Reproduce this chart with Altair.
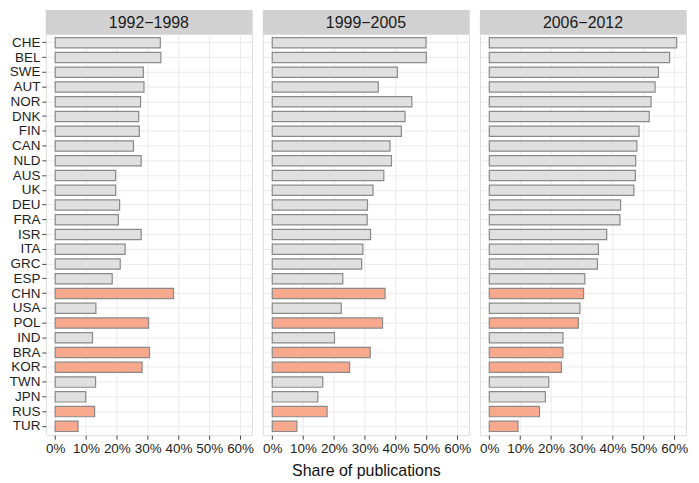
import altair as alt
import pandas as pd

countries = ["CHE", "BEL", "SWE", "AUT", "NOR", "DNK", "FIN", "CAN", "NLD", "AUS",
             "UK", "DEU", "FRA", "ISR", "ITA", "GRC", "ESP", "CHN", "USA", "POL",
             "IND", "BRA", "KOR", "TWN", "JPN", "RUS", "TUR"]
highlighted = ["CHN", "POL", "BRA", "KOR", "RUS", "TUR"]
periods = ["1992\u22121998", "1999\u22122005", "2006\u22122012"]
share_1992_1998 = [34.1, 34.3, 28.6, 28.8, 27.7, 27.1, 27.3, 25.4, 27.9, 19.6,
                   19.6, 20.9, 20.5, 27.9, 22.7, 21.1, 18.5, 38.4, 13.2, 30.3,
                   12.1, 30.6, 28.2, 13.1, 9.9, 12.8, 7.4]
share_1999_2005 = [49.9, 50.0, 40.6, 34.4, 45.3, 43.1, 41.9, 38.2, 38.7, 36.2,
                   32.7, 30.9, 30.8, 31.9, 29.4, 29.0, 22.9, 36.6, 22.4, 35.8,
                   20.2, 31.8, 25.1, 16.4, 14.8, 17.8, 8.0]
share_2006_2012 = [60.8, 58.5, 54.9, 53.8, 52.5, 51.9, 48.6, 47.9, 47.5, 47.4,
                   46.9, 42.6, 42.4, 38.1, 35.4, 35.1, 31.0, 30.6, 29.4, 28.9,
                   23.9, 23.9, 23.4, 19.3, 18.2, 16.3, 9.3]
x_ticks = [0, 10, 20, 30, 40, 50, 60]

series = [share_1992_1998, share_1999_2005, share_2006_2012]

W = 207
H = 403
SH = 24
FONT = "Liberation Sans"

columns = []
for i, (period, vals) in enumerate(zip(periods, series)):
    df = pd.DataFrame({
        "country": countries,
        "share": vals,
        "group": ["highlight" if c in highlighted else "other" for c in countries],
    })
    first = i == 0
    yaxis = alt.Axis(
        title=None, labels=first, ticks=first, domain=False, grid=True,
        gridColor="#ebebeb", gridWidth=1, bandPosition=0.5,
        labelFont=FONT, labelFontSize=13.5, labelColor="#1e1e1e",
        tickColor="#444444", tickSize=4, labelPadding=2,
    )
    xaxis = alt.Axis(
        title="Share of publications" if i == 1 else None,
        values=x_ticks, labelExpr="datum.value + '%'",
        domain=False, grid=True, gridColor="#ebebeb", gridWidth=1,
        labelFont=FONT, labelFontSize=13.5, labelColor="#1e1e1e",
        tickColor="#444444", tickSize=4, labelPadding=2,
        titleFont=FONT, titleFontSize=16, titleFontWeight="normal",
        titleColor="#111111", titlePadding=8,
    )
    bars = alt.Chart(df).mark_bar(stroke="#8a8a8a", strokeWidth=1.2).encode(
        y=alt.Y("country:N", sort=countries,
                scale=alt.Scale(paddingInner=0.3, paddingOuter=0.25),
                axis=yaxis),
        x=alt.X("share:Q",
                scale=alt.Scale(domain=[-3.04, 63.84], nice=False, zero=False),
                axis=xaxis),
        x2=alt.datum(0),
        fill=alt.Fill("group:N",
                      scale=alt.Scale(domain=["other", "highlight"],
                                      range=["#e0e0e0", "#f8a88c"]),
                      legend=None),
    ).properties(width=W, height=H)

    sdf = pd.DataFrame({"p": [period]})
    strip_rect = alt.Chart(sdf).mark_rect(fill="#d1d1d1").encode(
        x=alt.value(0), x2=alt.value(W), y=alt.value(0), y2=alt.value(SH)
    )
    strip_text = alt.Chart(sdf).mark_text(
        font=FONT, fontSize=16, color="#1a1a1a", baseline="middle", align="center"
    ).encode(text="p:N", x=alt.value(W / 2), y=alt.value(SH / 2 + 1))
    strip = alt.layer(strip_rect, strip_text).properties(width=W, height=SH)

    columns.append(alt.vconcat(strip, bars, spacing=0, bounds="flush"))

chart = alt.hconcat(*columns, spacing=7).properties(
    padding={"left": 0, "top": 0, "right": 2, "bottom": 2}
).configure_view(stroke="#a0a0a0", strokeWidth=1).configure(background="white")

chart.save("out.html", embed_options={"renderer": "svg", "actions": False})
